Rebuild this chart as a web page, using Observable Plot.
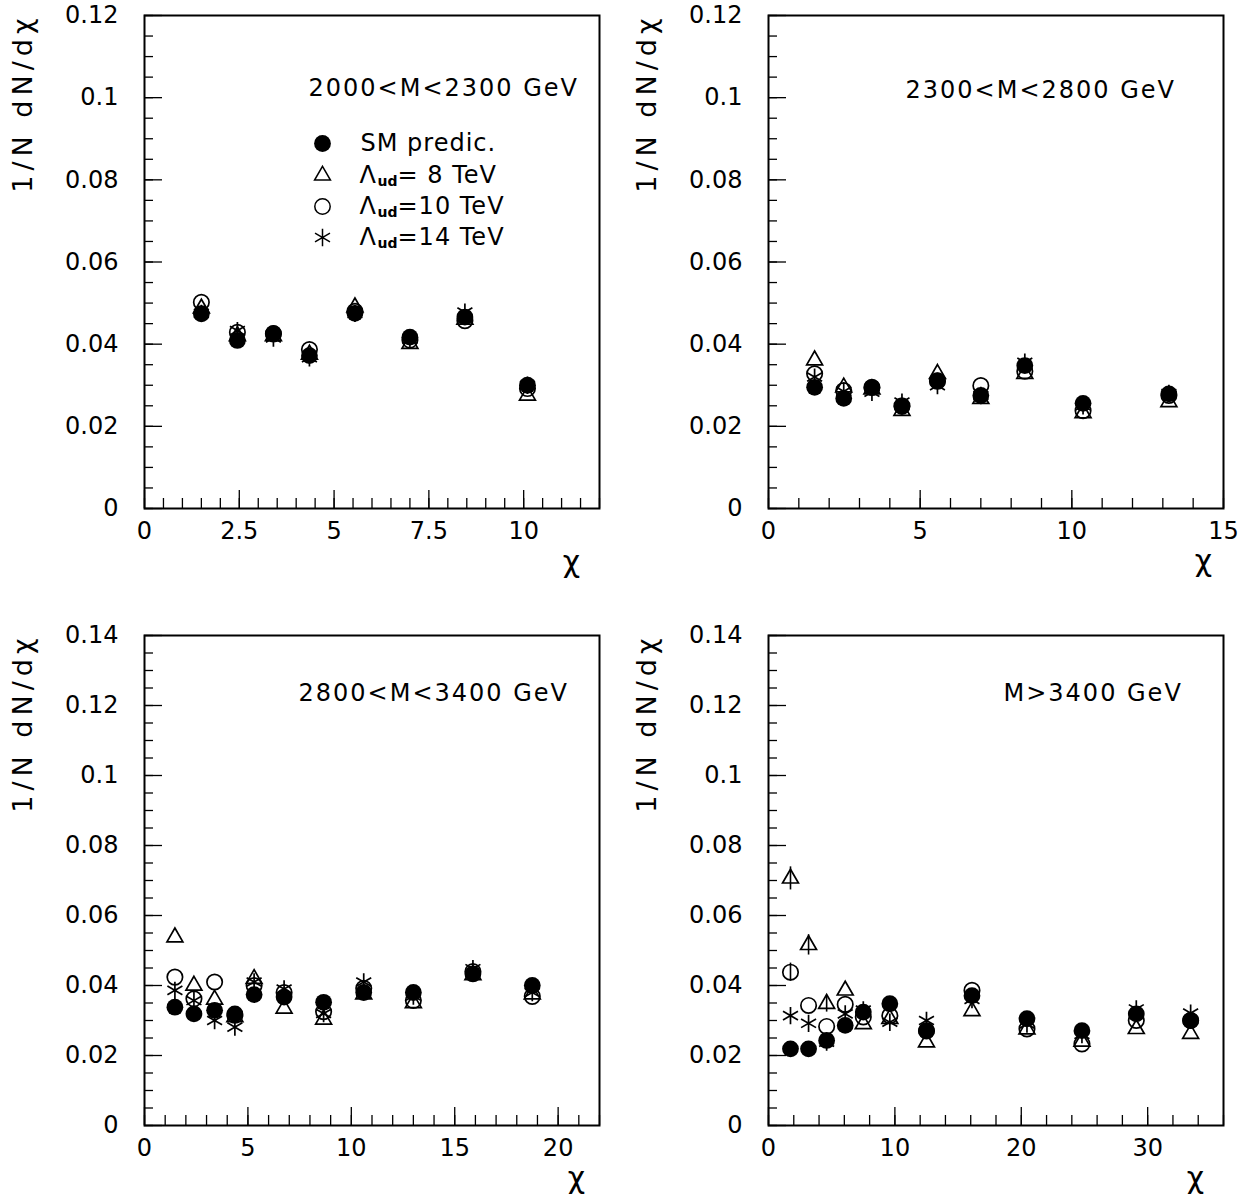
<!DOCTYPE html>
<html><head><meta charset="utf-8">
<script src="https://cdn.jsdelivr.net/npm/d3@7"></script>
<script src="https://cdn.jsdelivr.net/npm/@observablehq/plot@0.6"></script>
<style>
body{margin:0;background:#fff;}
#wrap{position:relative;width:1255px;height:1196px;background:#fff;}
#wrap svg{position:absolute;}
</style></head><body><div id="wrap"></div>
<script>
// ---------- data ----------
const titles = ["2000<M<2300 GeV", "2300<M<2800 GeV", "2800<M<3400 GeV", "M>3400 GeV"];
const legendLabels = ["SM predic.", "= 8 TeV", "=10 TeV", "=14 TeV"];

// Panel 1: 2000<M<2300 GeV
const chi1 = [1.5, 2.45, 3.4, 4.35, 5.55, 7.0, 8.45, 10.1];
const sm1  = [0.0474, 0.0409, 0.0426, 0.0372, 0.0475, 0.0417, 0.0466, 0.0300];
const t8_1 = [0.0487, 0.0420, 0.0420, 0.0375, 0.0490, 0.0401, 0.0460, 0.0275];
const c10_1= [0.0502, 0.0429, 0.0425, 0.0387, 0.0480, 0.0410, 0.0457, 0.0292];
const s14_1= [0.0475, 0.0433, 0.0415, 0.0367, 0.0475, 0.0412, 0.0478, 0.0300];

// Panel 2: 2300<M<2800 GeV
const chi2 = [1.52, 2.48, 3.41, 4.4, 5.57, 7.0, 8.45, 10.37, 13.2];
const sm2  = [0.0295, 0.0268, 0.0294, 0.0248, 0.0311, 0.0275, 0.0348, 0.0256, 0.0279];
const t8_2 = [0.0361, 0.0295, 0.0290, 0.0238, 0.0328, 0.0267, 0.0328, 0.0232, 0.0259];
const c10_2= [0.0328, 0.0287, 0.0295, 0.0250, 0.0310, 0.0299, 0.0334, 0.0238, 0.0275];
const s14_2= [0.0320, 0.0285, 0.0283, 0.0259, 0.0299, 0.0275, 0.0356, 0.0250, 0.0280];

// Panel 3: 2800<M<3400 GeV
const chi3 = [1.47, 2.39, 3.39, 4.37, 5.3, 6.75, 8.66, 10.6, 13.0, 15.88, 18.75];
const sm3  = [0.0338, 0.0319, 0.0329, 0.0319, 0.0374, 0.0367, 0.0352, 0.0380, 0.0380, 0.0433, 0.0400];
const t8_3 = [0.0538, 0.0400, 0.0360, 0.0310, 0.0419, 0.0334, 0.0303, 0.0375, 0.0350, 0.0430, 0.0375];
const c10_3= [0.0424, 0.0362, 0.0410, 0.0315, 0.0400, 0.0380, 0.0325, 0.0392, 0.0357, 0.0440, 0.0369];
const s14_3= [0.0386, 0.0357, 0.0300, 0.0281, 0.0410, 0.0390, 0.0320, 0.0410, 0.0370, 0.0448, 0.0380];

// Panel 4: M>3400 GeV
const chi4 = [1.74, 3.17, 4.6, 6.07, 7.5, 9.6, 12.5, 16.1, 20.45, 24.8, 29.1, 33.4];
const sm4  = [0.0219, 0.0219, 0.0243, 0.0286, 0.0324, 0.0348, 0.0271, 0.0371, 0.0305, 0.0271, 0.0319, 0.0300];
const t8_4 = [0.0706, 0.0516, 0.0348, 0.0386, 0.0290, 0.0305, 0.0238, 0.0327, 0.0275, 0.0240, 0.0276, 0.0262];
const c10_4= [0.0438, 0.0343, 0.0283, 0.0346, 0.0310, 0.0314, 0.0270, 0.0386, 0.0276, 0.0233, 0.0300, 0.0300];
const s14_4= [0.0314, 0.0292, 0.0238, 0.0319, 0.0330, 0.0295, 0.0300, 0.0360, 0.0290, 0.0260, 0.0333, 0.0321];
const errT8_4  = [0.0033, 0.0029, 0.0024, 0, 0, 0, 0, 0, 0, 0, 0, 0];
const errC10_4 = [0.0026, 0, 0, 0, 0, 0, 0, 0, 0, 0, 0, 0];

// ticks
const xTicks1 = [0, 2.5, 5, 7.5, 10];  const xLabels1 = ["0", "2.5", "5", "7.5", "10"];
const xTicks2 = [0, 5, 10, 15];        const xLabels2 = ["0", "5", "10", "15"];
const xTicks3 = [0, 5, 10, 15, 20];    const xLabels3 = ["0", "5", "10", "15", "20"];
const xTicks4 = [0, 10, 20, 30];       const xLabels4 = ["0", "10", "20", "30"];
const yTicksA = [0, 0.02, 0.04, 0.06, 0.08, 0.1, 0.12];
const yLabelsA = ["0", "0.02", "0.04", "0.06", "0.08", "0.1", "0.12"];
const yTicksB = [0, 0.02, 0.04, 0.06, 0.08, 0.1, 0.12, 0.14];
const yLabelsB = ["0", "0.02", "0.04", "0.06", "0.08", "0.1", "0.12", "0.14"];

// ---------- layout ----------
const W = 627, H = 598, ML = 144, MR = 28;
const FONT = "DejaVu Sans";
const minor = (max, step) => d3.range(0, max + step / 2, step);

const panels = [
  {title: titles[0], chi: chi1, sm: sm1, t8: t8_1, c10: c10_1, s14: s14_1,
   xmax: 12, ymax: 0.12, xTicks: xTicks1, xLabels: xLabels1, xStep: 0.5,
   yTicks: yTicksA, yLabels: yLabelsA, left: 0, top: 0, mt: 15, mb: 90,
   tdx: 164, tdy: 73, legend: true, cdx: -28, cdy: 54},
  {title: titles[1], chi: chi2, sm: sm2, t8: t8_2, c10: c10_2, s14: s14_2,
   xmax: 15, ymax: 0.12, xTicks: xTicks2, xLabels: xLabels2, xStep: 1,
   yTicks: yTicksA, yLabels: yLabelsA, left: 624, top: 0, mt: 15, mb: 90,
   tdx: 137, tdy: 75, legend: false, cdx: -20, cdy: 53},
  {title: titles[2], chi: chi3, sm: sm3, t8: t8_3, c10: c10_3, s14: s14_3,
   xmax: 22, ymax: 0.14, xTicks: xTicks3, xLabels: xLabels3, xStep: 1,
   yTicks: yTicksB, yLabels: yLabelsB, left: 0, top: 598, mt: 37, mb: 71,
   tdx: 154, tdy: 58, legend: false, cdx: -23, cdy: 53},
  {title: titles[3], chi: chi4, sm: sm4, t8: t8_4, c10: c10_4, s14: s14_4,
   errT8: errT8_4, errC10: errC10_4,
   xmax: 36, ymax: 0.14, xTicks: xTicks4, xLabels: xLabels4, xStep: 2,
   yTicks: yTicksB, yLabels: yLabelsB, left: 624, top: 598, mt: 37, mb: 71,
   tdx: 235, tdy: 58, legend: false, cdx: -28, cdy: 53}
];

const wrap = document.getElementById("wrap");

for (const p of panels) {
  const pw = W - ML - MR, ph = H - p.mt - p.mb;
  const rows = p.chi.map((x, i) => ({
    x, sm: p.sm[i], t8: p.t8[i], c10: p.c10[i], s14: p.s14[i],
    et: p.errT8 ? p.errT8[i] : 0, ec: p.errC10 ? p.errC10[i] : 0
  }));
  const xl = new Map(p.xTicks.map((d, i) => [d, p.xLabels[i]]));
  const yl = new Map(p.yTicks.map((d, i) => [d, p.yLabels[i]]));
  const sw = 1.3;

  const marks = [
    // inward ticks
    Plot.tickY(minor(p.ymax, 0.005), {y: d => d, insetRight: pw - 9, stroke: "black", strokeWidth: sw}),
    Plot.tickY(p.yTicks, {y: d => d, insetRight: pw - 18, stroke: "black", strokeWidth: sw}),
    Plot.tickX(minor(p.xmax, p.xStep), {x: d => d, insetTop: ph - 10, stroke: "black", strokeWidth: sw}),
    Plot.tickX(p.xTicks, {x: d => d, insetTop: ph - 18, stroke: "black", strokeWidth: sw}),
    Plot.frame({stroke: "black", strokeWidth: 2}),
    Plot.axisY(p.yTicks, {tickSize: 0, tickPadding: 26, tickFormat: d => yl.get(d), fontSize: 24, label: null}),
    Plot.axisX(p.xTicks, {tickSize: 0, tickPadding: 13, tickFormat: d => xl.get(d), fontSize: 24, label: null}),
    // error bars
    Plot.ruleX(rows.filter(d => d.et > 0), {x: "x", y1: d => d.t8 - d.et, y2: d => d.t8 + d.et, stroke: "black", strokeWidth: 1.6}),
    Plot.ruleX(rows.filter(d => d.ec > 0), {x: "x", y1: d => d.c10 - d.ec, y2: d => d.c10 + d.ec, stroke: "black", strokeWidth: 1.6}),
    // data
    Plot.dot(rows, {x: "x", y: "sm", r: 8.4, fill: "black", stroke: null}),
    Plot.dot(rows, {x: "x", y: "t8", symbol: "triangle", r: 5.9, fill: "none", stroke: "black", strokeWidth: 1.7}),
    Plot.dot(rows, {x: "x", y: "c10", r: 7.7, fill: "none", stroke: "black", strokeWidth: 1.7}),
    Plot.dot(rows, {x: "x", y: "s14", symbol: "asterisk", r: 8.2, stroke: "black", strokeWidth: 1.7}),
    // title, axis labels
    Plot.text([p.title], {frameAnchor: "top-left", dx: p.tdx, dy: p.tdy, textAnchor: "start", lineAnchor: "middle", fontSize: 24}),
    Plot.text(["1/N dN/dχ"], {frameAnchor: "top-left", dx: -121, dy: -2, rotate: -90, textAnchor: "end", lineAnchor: "middle", fontSize: 27}),
    Plot.text(["χ"], {frameAnchor: "bottom-right", dx: p.cdx, dy: p.cdy, textAnchor: "middle", lineAnchor: "middle", fontSize: 30})
  ];

  if (p.legend) {
    const lx = 178, ty = [128, 160, 191, 222];
    marks.push(
      Plot.dot([0], {x: null, y: null, frameAnchor: "top-left", dx: lx, dy: ty[0], r: 8.4, fill: "black", stroke: null}),
      Plot.dot([0], {x: null, y: null, frameAnchor: "top-left", dx: lx, dy: ty[1], symbol: "triangle", r: 5.9, fill: "none", stroke: "black", strokeWidth: 1.5}),
      Plot.dot([0], {x: null, y: null, frameAnchor: "top-left", dx: lx, dy: ty[2], r: 7.7, fill: "none", stroke: "black", strokeWidth: 1.5}),
      Plot.dot([0], {x: null, y: null, frameAnchor: "top-left", dx: lx, dy: ty[3], symbol: "asterisk", r: 8.2, stroke: "black", strokeWidth: 1.5}),
      Plot.text([legendLabels[0]], {frameAnchor: "top-left", dx: 216, dy: ty[0], textAnchor: "start", lineAnchor: "middle", fontSize: 24})
    );
    for (let k = 1; k < 4; k++) {
      marks.push(
        Plot.text(["Λ"], {frameAnchor: "top-left", dx: 215, dy: ty[k], textAnchor: "start", lineAnchor: "middle", fontSize: 24}),
        Plot.text(["ud"], {frameAnchor: "top-left", dx: 233, dy: ty[k] + 6, textAnchor: "start", lineAnchor: "middle", fontSize: 14, fontWeight: "bold"}),
        Plot.text([legendLabels[k]], {frameAnchor: "top-left", dx: 253, dy: ty[k], textAnchor: "start", lineAnchor: "middle", fontSize: 24})
      );
    }
  }

  const svg = Plot.plot({
    width: W, height: H,
    marginLeft: ML, marginRight: MR, marginTop: p.mt, marginBottom: p.mb,
    x: {domain: [0, p.xmax]},
    y: {domain: [0, p.ymax]},
    style: {fontFamily: FONT, fontSize: "24px", background: "transparent", color: "black", overflow: "visible"},
    marks
  });
  svg.style.left = p.left + "px";
  svg.style.top = p.top + "px";
  d3.select(svg).selectAll("text").each(function () {
    const t = this.textContent;
    if (t === p.title) this.style.letterSpacing = "2px";
    else if (t === "1/N dN/dχ") this.style.letterSpacing = "5px";
    else if (legendLabels.includes(t)) this.style.letterSpacing = "1px";
  });
  wrap.appendChild(svg);
}
</script></body></html>
